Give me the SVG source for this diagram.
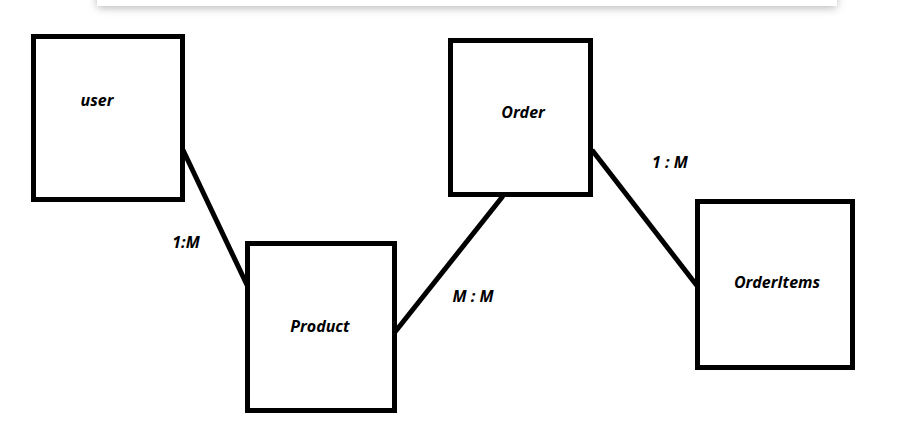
<svg xmlns="http://www.w3.org/2000/svg" width="898" height="424" viewBox="0 0 898 424">
  <style>
    .box { fill: #ffffff; stroke: #000000; stroke-width: 5; }
    .edge { stroke: #000000; stroke-width: 5; fill: none; }
    .lbl { font-family: "Open Sans", "Liberation Sans", sans-serif; font-size: 16px; font-weight: bold; font-style: italic; fill: #000000; text-anchor: middle; }
  </style>
  <defs>
    <filter id="soft" x="-10%" y="-200%" width="120%" height="500%">
      <feGaussianBlur stdDeviation="4"/>
    </filter>
  </defs>
  <rect width="898" height="424" fill="#ffffff"/>
  <!-- toolbar shadow along the top edge -->
  <rect x="97" y="-30" width="740" height="38" rx="4" fill="#b8b8b8" filter="url(#soft)"/>
  <rect x="97" y="-30" width="740" height="36" fill="#ffffff"/>

  <g id="connectors">
    <line class="edge" x1="183" y1="150" x2="247" y2="285"/>
    <line class="edge" x1="395" y1="332" x2="503" y2="196"/>
    <line class="edge" x1="592" y1="150" x2="698" y2="287"/>
    <text class="lbl" x="186" y="248">1:M</text>
    <text class="lbl" x="473" y="302">M : M</text>
    <text class="lbl" x="670" y="168">1 : M</text>
  </g>

  <g id="user">
    <rect class="box" x="33.5" y="36.5" width="149" height="163"/>
    <text class="lbl" x="97" y="106">user</text>
  </g>
  <g id="product">
    <rect class="box" x="247.5" y="243.5" width="147" height="167"/>
    <text class="lbl" x="320" y="332">Product</text>
  </g>
  <g id="order">
    <rect class="box" x="450.5" y="40.5" width="140" height="154"/>
    <text class="lbl" x="523" y="118">Order</text>
  </g>
  <g id="orderitems">
    <rect class="box" x="697.5" y="201.5" width="155" height="166"/>
    <text class="lbl" x="777" y="288">OrderItems</text>
  </g>
</svg>
